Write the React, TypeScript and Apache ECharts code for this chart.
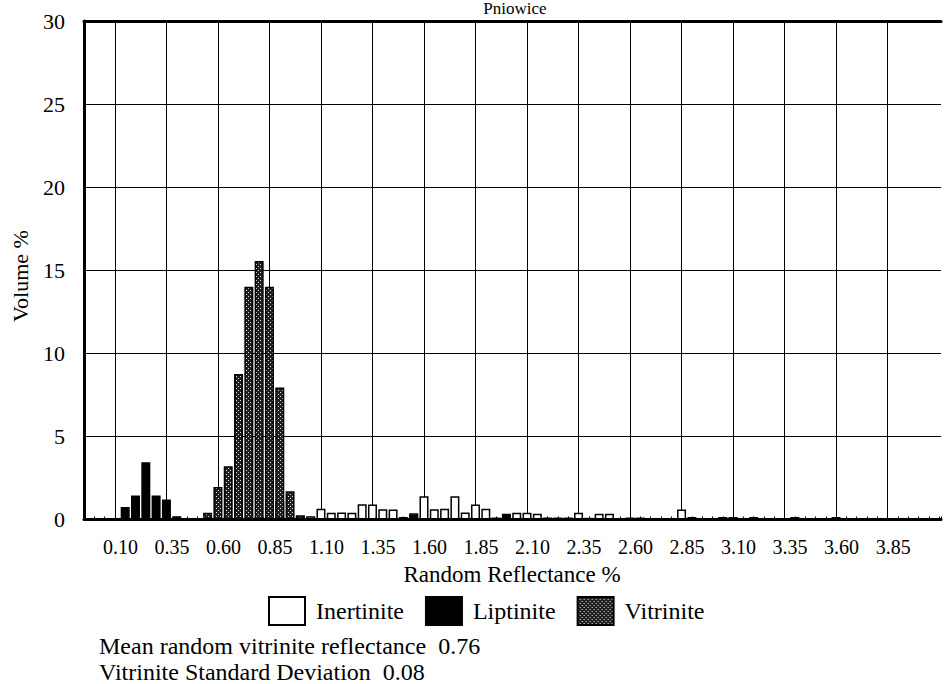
import React, { useEffect, useRef } from 'react';
import * as echarts from 'echarts';

// Reflectance bins (bin centres, %)
const bins = [
  '0.10', '0.15', '0.20', '0.25', '0.30', '0.35', '0.40', '0.45', '0.50', '0.55',
  '0.60', '0.65', '0.70', '0.75', '0.80', '0.85', '0.90', '0.95', '1.00', '1.05',
  '1.10', '1.15', '1.20', '1.25', '1.30', '1.35', '1.40', '1.45', '1.50', '1.55',
  '1.60', '1.65', '1.70', '1.75', '1.80', '1.85', '1.90', '1.95', '2.00', '2.05',
  '2.10', '2.15', '2.20', '2.25', '2.30', '2.35', '2.40', '2.45', '2.50', '2.55',
  '2.60', '2.65', '2.70', '2.75', '2.80', '2.85', '2.90', '2.95', '3.00', '3.05',
  '3.10', '3.15', '3.20', '3.25', '3.30', '3.35', '3.40', '3.45', '3.50', '3.55',
  '3.60', '3.65', '3.70', '3.75', '3.80', '3.85', '3.90', '3.95', '4.00', '4.05',
];

// Volume % per bin
const inertinite = [
  0, 0, 0, 0, 0, 0, 0, 0, 0, 0,
  0, 0, 0, 0, 0.15, 0, 1.1, 0, 0.2, 0.2,
  0.65, 0.4, 0.42, 0.4, 0.92, 0.9, 0.62, 0.6, 0.15, 0.38,
  1.4, 0.62, 0.65, 1.4, 0.42, 0.9, 0.65, 0.12, 0.35, 0.4,
  0.4, 0.35, 0.12, 0.12, 0.12, 0.4, 0.1, 0.35, 0.35, 0,
  0.12, 0.12, 0, 0, 0, 0.6, 0.15, 0, 0, 0.15,
  0.15, 0, 0.15, 0, 0, 0, 0.15, 0, 0, 0,
  0.15, 0, 0, 0, 0, 0, 0, 0, 0, 0,
];
const liptinite = [
  0, 0.75, 1.45, 3.45, 1.45, 1.2, 0.2, 0.05, 0, 0,
  0, 0, 0, 0, 0, 0, 0, 0, 0, 0,
  0, 0, 0, 0, 0, 0, 0, 0, 0, 0.3,
  0, 0, 0, 0, 0, 0, 0, 0, 0.33, 0,
  0, 0, 0, 0, 0, 0, 0, 0, 0, 0,
  0, 0, 0, 0, 0, 0, 0, 0, 0, 0,
  0, 0, 0, 0, 0, 0, 0, 0, 0, 0,
  0, 0, 0, 0, 0, 0, 0, 0, 0, 0,
];
const vitrinite = [
  0, 0, 0, 0, 0, 0, 0, 0, 0, 0.4,
  1.95, 3.2, 8.75, 14.0, 15.55, 14.0, 7.95, 1.7, 0.25, 0,
  0, 0, 0, 0, 0, 0, 0, 0, 0, 0,
  0, 0, 0, 0, 0, 0, 0, 0, 0, 0,
  0, 0, 0, 0, 0, 0, 0, 0, 0, 0,
  0, 0, 0, 0, 0, 0, 0, 0, 0, 0,
  0, 0, 0, 0, 0, 0, 0, 0, 0, 0,
  0, 0, 0, 0, 0, 0, 0, 0, 0, 0,
];

const xTickLabels = [
  '0.10', '0.35', '0.60', '0.85', '1.10', '1.35', '1.60', '1.85',
  '2.10', '2.35', '2.60', '2.85', '3.10', '3.35', '3.60', '3.85',
];

const seriesNames = ['Inertinite', 'Liptinite', 'Vitrinite'];
const titleText = 'Pniowice';
const xName = 'Random Reflectance %';
const yName = 'Volume %';
const meanLine = 'Mean random vitrinite reflectance  0.76';
const sdLine = 'Vitrinite Standard Deviation  0.08';

const FONT = 'Liberation Serif';

function makePattern() {
  const c = document.createElement('canvas');
  c.width = 4;
  c.height = 4;
  const ctx = c.getContext('2d')!;
  ctx.fillStyle = '#202020';
  ctx.fillRect(0, 0, 4, 4);
  ctx.fillStyle = '#e6e6e6';
  ctx.fillRect(0, 0, 1, 1);
  ctx.fillRect(2, 2, 1, 1);
  return { image: c, repeat: 'repeat', imageWidth: 4, imageHeight: 4 } as any;
}

export default function App() {
  const ref = useRef<HTMLDivElement>(null);

  useEffect(() => {
    document.body.style.margin = '0';
    if (!ref.current) return;
    const chart = echarts.init(ref.current, undefined, { renderer: 'svg' });
    const pattern = makePattern();
    const toPairs = (arr: number[]) => bins.map((b, i) => [Number(b), arr[i]]);

    const X_MIN = -0.05;
    const X_MAX = 4.109;

    const barCommon = {
      type: 'bar',
      stack: 'total',
      barWidth: 9,
      silent: true,
    };

    const textStyle = (size: number) => ({ fill: '#000', fontFamily: FONT, fontSize: size });

    chart.setOption({
      animation: false,
      grid: {
        left: 84,
        top: 21,
        bottom: 164.5,
        right: 0,
        show: false,
      },
      xAxis: [
        {
          type: 'value',
          min: X_MIN,
          max: X_MAX,
          interval: 0.05,
          axisLine: { show: true, onZero: false, lineStyle: { color: '#000', width: 3 } },
          axisTick: { show: true, inside: true, length: 3, lineStyle: { color: '#000', width: 1 } },
          splitLine: { show: false },
          axisLabel: {
            color: '#000',
            fontFamily: FONT,
            fontSize: 20,
            margin: 17,
            padding: [0, 0, 0, 11],
            formatter: (v: number) => {
              const s = (Math.round(v * 100) / 100).toFixed(2);
              return xTickLabels.includes(s) ? s : '';
            },
          },
        },
        {
          type: 'value',
          position: 'top',
          min: X_MIN,
          max: X_MAX,
          axisLine: { show: true, onZero: false, lineStyle: { color: '#000', width: 3 } },
          axisTick: { show: false },
          axisLabel: { show: false },
          splitLine: { show: false },
        },
      ],
      yAxis: {
        type: 'value',
        min: 0,
        max: 30,
        interval: 5,
        axisLine: { show: true, onZero: false, lineStyle: { color: '#000', width: 3 } },
        axisTick: { show: false },
        splitLine: { show: true, lineStyle: { color: '#000', width: 1 } },
        axisLabel: { color: '#000', fontFamily: FONT, fontSize: 22, margin: 19 },
      },
      legend: {
        left: 268,
        top: 596,
        padding: 0,
        itemWidth: 36,
        itemHeight: 28,
        itemGap: 21,
        selectedMode: false,
        icon: 'rect',
        textStyle: { color: '#000', fontFamily: FONT, fontSize: 24, padding: [0, 0, 0, 6] },
        data: seriesNames,
      },
      series: [
        {
          ...barCommon,
          name: seriesNames[0],
          data: toPairs(inertinite),
          itemStyle: { color: '#fff', borderColor: '#000', borderWidth: 1.5 },
          markLine: {
            silent: true,
            symbol: 'none',
            z: 1,
            label: { show: false },
            lineStyle: { color: '#000', width: 1, type: 'solid' },
            data: xTickLabels.map((t) => ({ xAxis: Number(t) })),
          },
        },
        {
          ...barCommon,
          name: seriesNames[1],
          data: toPairs(liptinite),
          itemStyle: { color: '#000', borderColor: '#000', borderWidth: 1.5 },
        },
        {
          ...barCommon,
          name: seriesNames[2],
          data: toPairs(vitrinite),
          itemStyle: { color: pattern, borderColor: '#000', borderWidth: 1.5 },
        },
      ],
      graphic: [
        {
          type: 'text',
          x: 515,
          y: 0,
          style: { text: titleText, ...textStyle(17), align: 'center', verticalAlign: 'top' },
        },
        {
          type: 'text',
          x: 20,
          y: 276,
          rotation: Math.PI / 2,
          style: { text: yName, ...textStyle(22), align: 'center', verticalAlign: 'middle' },
        },
        {
          type: 'text',
          x: 512,
          y: 574,
          style: { text: xName, ...textStyle(23), align: 'center', verticalAlign: 'middle' },
        },
        {
          type: 'text',
          x: 99,
          y: 646,
          style: { text: meanLine, ...textStyle(24), align: 'left', verticalAlign: 'middle' },
        },
        {
          type: 'text',
          x: 99,
          y: 671.5,
          style: { text: sdLine, ...textStyle(24), align: 'left', verticalAlign: 'middle' },
        },
      ],
    });

    return () => chart.dispose();
  }, []);

  return (
    <div
      ref={ref}
      style={{ position: 'fixed', left: 0, top: 0, width: 944, height: 684, overflow: 'hidden', background: '#fff' }}
    />
  );
}
